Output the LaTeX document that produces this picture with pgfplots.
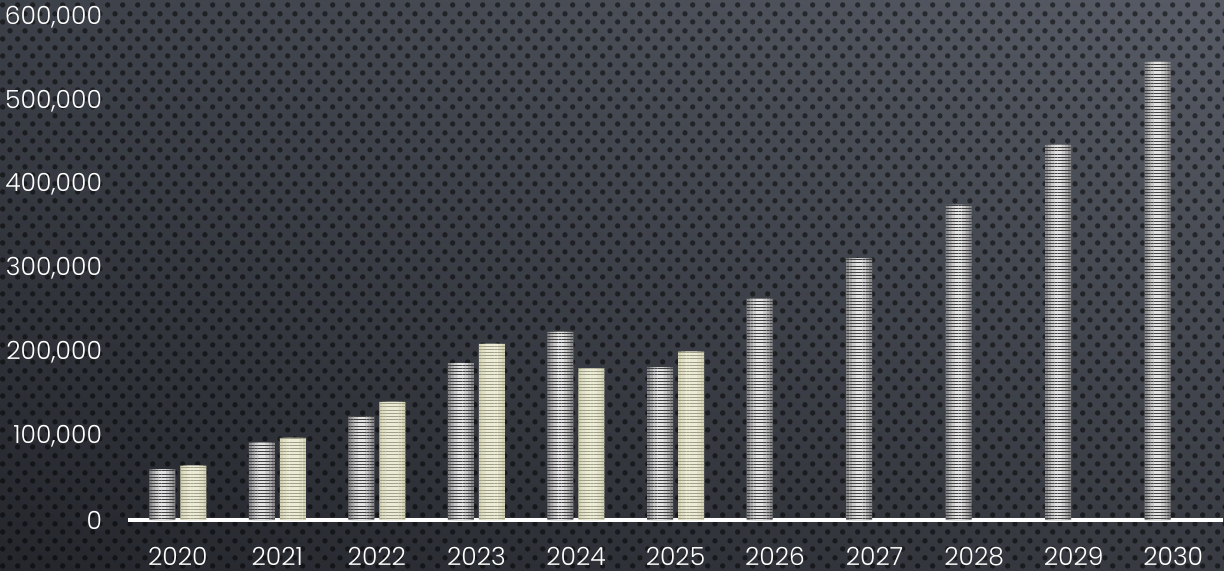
\documentclass[border=0pt]{standalone}
\usepackage{pgfplots}
\usepackage{pgfplotstable}
\pgfplotsset{compat=1.18}
\usepackage{fontspec}
\setmainfont{Poppins Light}
\usetikzlibrary{patterns.meta,shadings}
\definecolor{bgUR}{HTML}{565B65}
\definecolor{bgUL}{HTML}{3C4048}
\definecolor{bgLL}{HTML}{24262C}
\definecolor{bgLR}{HTML}{383B42}
\definecolor{gray1}{HTML}{8A8A8C}
\definecolor{gray2}{HTML}{ABABAD}
\definecolor{gray3}{HTML}{CACACB}
\definecolor{gray4}{HTML}{E2E2E2}
\definecolor{cream1}{HTML}{D6D4B6}
\definecolor{cream2}{HTML}{E2E0C6}
\definecolor{cream3}{HTML}{ECEBD6}
\pgfplotstableread{
x  y
0  60500
1  92200
2  124000
3  187000
4  224500
5  182000
6  264500
7  312000
8  376000
9  447500
10 546500
}\seriesA
\pgfplotstableread{
x  y
0  64800
1  97900
2  141000
3  210000
4  181000
5  201000
}\seriesB
\tikzdeclarepattern{name=bgdots, type=uncolored,
  bounding box={(0,0) and (7.65pt,8.3pt)},
  tile size={(7.65pt,8.3pt)},
  code={\fill (1.9125pt,2.075pt) circle (1.4pt); \fill (5.7375pt,6.225pt) circle (1.4pt);}}
\begin{document}
\begin{tikzpicture}
\useasboundingbox (0,0) rectangle (612pt,285pt);
\shade[upper left=bgUL, upper right=bgUR, lower left=bgLL, lower right=bgLR] (0,0) rectangle (612pt,285pt);
\fill[pattern=bgdots, pattern color=black, fill opacity=0.5] (0,0) rectangle (612pt,285pt);
\begin{axis}[
  at={(64pt,25pt)}, anchor=south west,
  scale only axis, width=547.5pt, height=251.5pt,
  xmin=-0.5, xmax=10.5, ymin=0, ymax=600000,
  ybar, bar width=13pt,
  axis x line*=bottom, axis y line*=left,
  x axis line style={white, line width=1.6pt, -},
  y axis line style={draw=none},
  xtick={0,...,10},
  xticklabels={2020,2021,2022,2023,2024,2025,2026,2027,2028,2029,2030},
  ytick={0,100000,200000,300000,400000,500000,600000},
  scaled y ticks=false,
  /pgf/number format/fixed,
  /pgf/number format/precision=0,
  /pgf/number format/1000 sep={,},
  /pgf/number format/assume math mode=true,
  tick style={draw=none},
  ticklabel style={text=white, font=\fontsize{12.5}{14}\selectfont},
  xticklabel style={inner sep=0pt, text depth=0pt, yshift=-9pt},
  yticklabel style={xshift=-9.5pt},
  clip=false,
]
% gray series: stepped horizontal gradient, then stripes
\addplot[draw=none, fill=gray1, bar width=13pt, bar shift=-7.75pt] table {\seriesA};
\addplot[draw=none, fill=gray2, bar width=10pt, bar shift=-7.75pt] table {\seriesA};
\addplot[draw=none, fill=gray3, bar width=7pt, bar shift=-7.75pt] table {\seriesA};
\addplot[draw=none, fill=gray4, bar width=3.5pt, bar shift=-7.75pt] table {\seriesA};
\addplot[draw=none, bar width=13pt, bar shift=-7.75pt,
  pattern={Lines[angle=0, distance=1.6pt, line width=0.5pt]}, pattern color=black!50!gray, fill opacity=0.6] table {\seriesA};
% cream series
\addplot[draw=none, fill=cream1, bar width=13pt, bar shift=7.75pt] table {\seriesB};
\addplot[draw=none, fill=cream2, bar width=10pt, bar shift=7.75pt] table {\seriesB};
\addplot[draw=none, fill=cream3, bar width=6pt, bar shift=7.75pt] table {\seriesB};
\addplot[draw=none, bar width=13pt, bar shift=7.75pt,
  pattern={Lines[angle=0, distance=1.6pt, line width=0.5pt]}, pattern color=cream1!75!black, fill opacity=0.45] table {\seriesB};
\end{axis}
\end{tikzpicture}
\end{document}
